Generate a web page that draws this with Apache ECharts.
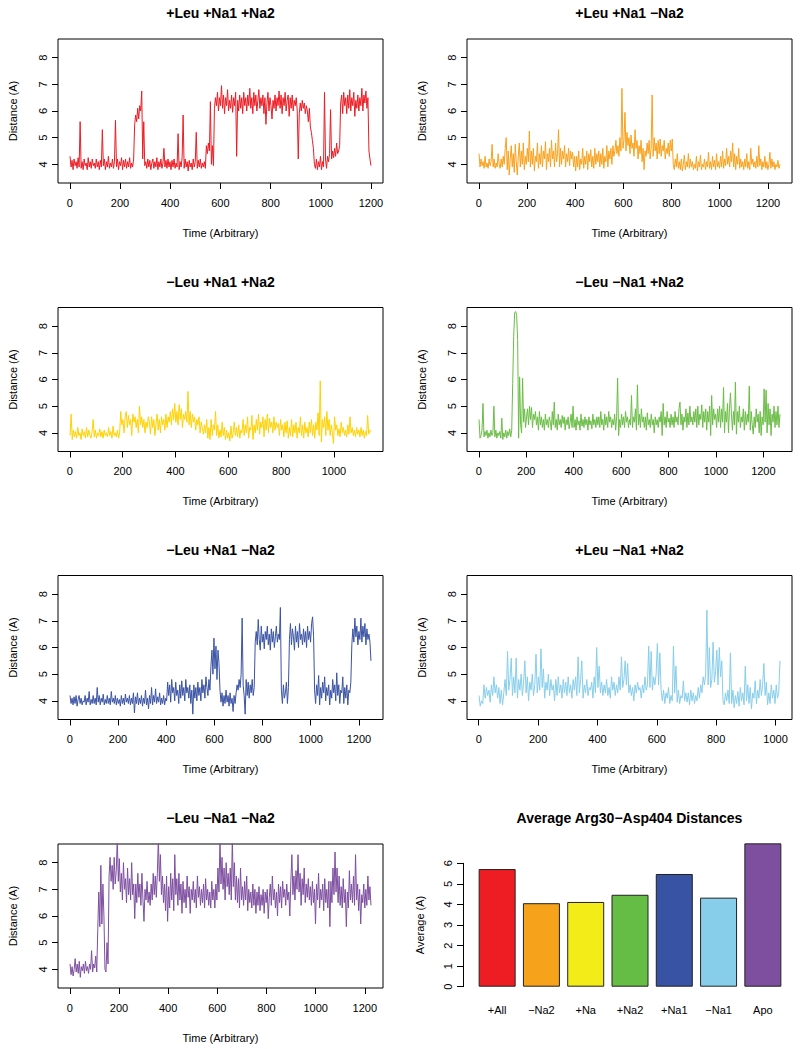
<!DOCTYPE html>
<html><head><meta charset="utf-8">
<script src="https://cdn.jsdelivr.net/npm/echarts@6/dist/echarts.min.js"></script>
<style>html,body{margin:0;padding:0;background:#fff}#c{width:800px;height:1049px}</style>
</head><body><div id="c"></div>
<script>
// ---------- DATA ----------
const panelTitles = ['+Leu +Na1 +Na2', '+Leu +Na1 \u2212Na2', '\u2212Leu +Na1 +Na2', '\u2212Leu \u2212Na1 +Na2',
  '\u2212Leu +Na1 \u2212Na2', '+Leu \u2212Na1 +Na2', '\u2212Leu \u2212Na1 \u2212Na2'];
const panelLengths = [1200, 1250, 1140, 1270, 1250, 1015, 1225];
const panelColors = ['#ED1C24', '#F9A11B', '#FFD200', '#6ABD45', '#3A53A4', '#87CEEB', '#7E4FA0'];

const distLeuNa1Na2 = [
  4.3,3.9,4.15,3.8,4.2,3.95,4.1,3.85,4.25,3.9,5.6,3.85,4.1,3.8,4.2,3.95,4.05,3.8,4.25,3.9,4.1,3.85,4.2,3.95,4.05,
  3.85,4.2,3.9,4.1,3.8,4.15,3.9,5.3,3.95,4.2,3.8,4.1,3.9,4.3,3.85,4.05,3.9,4.2,3.85,4.1,5.65,3.9,4.2,3.8,4.1,
  3.95,4.25,3.8,4.15,3.9,4.2,3.85,4.1,3.9,4.25,3.85,4.05,3.9,4.2,5.5,5.85,5.6,6.1,5.7,6.2,6.0,6.75,4.2,5.6,3.95,
  4.1,3.85,4.2,3.9,4.15,3.8,4.05,4.2,3.85,4.1,3.9,4.25,3.8,4.1,3.9,4.2,3.85,4.05,4.6,3.9,4.15,3.85,4.2,3.9,4.1,
  3.8,4.15,3.9,4.2,3.85,4.05,3.9,5.15,3.8,4.1,3.9,4.25,5.85,3.85,4.2,3.9,4.1,3.75,4.15,3.9,4.05,3.8,4.2,3.9,4.1,
  5.2,3.85,4.15,3.9,4.2,3.85,4.05,3.9,4.1,3.85,4.7,4.4,4.8,4.5,6.35,4.0,4.7,3.95,6.1,6.5,6.2,6.7,6.0,6.5,6.2,
  6.95,6.1,6.6,5.9,6.5,6.2,6.8,6.0,6.4,6.1,6.6,5.95,6.5,6.2,6.7,4.3,6.4,6.0,6.6,6.1,6.5,5.9,6.7,6.2,6.5,
  6.0,6.6,6.2,6.85,6.1,6.5,5.9,6.7,6.2,6.6,6.0,6.4,6.8,6.1,6.5,6.2,6.6,5.9,6.5,5.5,6.3,6.7,6.0,6.5,6.2,
  5.7,6.4,6.1,6.6,6.0,6.5,6.2,6.75,6.1,6.6,5.9,6.5,6.2,6.7,6.0,6.4,6.6,5.8,6.5,6.1,6.6,6.0,6.4,6.2,6.5,
  6.0,4.2,5.9,6.3,6.0,6.4,6.1,6.3,5.9,6.2,6.0,5.6,6.1,5.4,5.2,4.9,4.6,4.0,3.85,4.2,3.8,4.1,3.9,4.3,3.8,
  4.1,3.9,6.7,4.2,3.85,4.3,4.1,4.4,6.05,4.2,4.5,4.25,4.6,4.3,4.8,4.4,4.5,4.7,6.3,6.6,5.9,6.7,6.2,6.5,5.9,
  6.6,6.1,6.8,6.0,6.5,6.2,6.7,5.8,6.4,6.1,6.6,6.0,6.5,6.2,6.85,6.0,6.6,6.3,6.75,6.1,6.5,4.5,4.2,3.95];

const distLeuNa1NoNa2 = [
  4.4,3.9,4.2,3.95,4.1,3.85,4.3,3.9,4.05,3.85,4.2,3.95,4.1,4.75,3.9,4.2,3.85,4.05,3.9,4.4,4.0,3.85,4.2,3.9,
  4.3,4.0,4.6,5.0,3.8,4.5,3.6,4.2,4.7,3.9,4.4,3.7,4.75,4.1,3.6,4.3,4.8,3.9,4.5,4.0,4.8,3.8,4.3,4.0,
  4.6,4.1,5.25,3.9,4.5,4.0,4.6,3.75,4.3,4.1,4.8,3.85,4.4,4.0,4.7,3.9,4.5,4.2,4.85,3.8,4.4,4.1,4.6,3.9,
  4.9,4.2,4.5,3.9,4.8,4.1,4.4,5.3,3.9,4.6,4.0,4.5,4.2,4.7,3.9,4.4,4.1,4.6,3.95,4.5,4.2,4.45,3.9,4.3,
  3.75,4.3,3.9,4.5,3.8,4.2,4.0,4.6,3.85,4.3,4.0,4.5,3.8,4.4,4.1,4.55,3.9,4.3,3.85,4.6,4.0,4.4,4.1,4.5,
  3.9,4.4,4.0,4.6,3.85,4.3,4.1,4.7,3.9,4.5,4.2,4.6,4.0,4.7,4.3,4.5,4.9,4.4,4.7,4.3,5.0,4.5,6.85,4.6,
  4.9,5.95,4.5,5.2,4.7,5.0,4.4,5.1,4.6,4.8,4.3,5.3,4.6,4.9,4.2,4.7,4.4,4.9,4.1,4.6,3.8,4.5,4.3,4.8,
  4.4,4.9,4.2,4.6,6.6,4.3,5.0,4.5,4.8,4.2,4.9,4.4,4.95,4.3,4.7,4.5,4.9,4.2,4.6,4.4,4.8,4.3,4.9,4.5,
  4.95,4.0,3.8,4.2,3.9,4.4,3.85,4.1,3.8,4.2,3.75,4.0,4.35,3.8,4.1,3.9,4.4,3.85,4.2,3.9,4.1,3.8,4.0,3.85,
  4.3,3.75,4.1,3.9,4.35,3.8,4.0,3.9,4.2,3.8,4.1,3.9,4.45,3.85,4.1,3.8,4.3,3.9,4.15,3.8,4.4,3.9,4.1,3.85,
  4.3,3.9,4.5,3.85,4.2,3.95,4.6,4.0,4.3,3.9,4.5,4.1,4.8,3.9,4.4,3.8,4.3,4.0,4.6,3.85,4.2,3.9,4.1,3.8,
  4.2,3.9,4.4,3.85,4.1,3.8,4.6,4.0,4.2,3.9,4.1,3.85,4.3,3.9,4.7,3.95,4.2,3.8,4.1,3.9,4.3,3.85,4.1,3.8,
  4.0,4.45,3.85,4.2,3.9,4.1,3.8,4.0,3.9,4.15,3.85,4.0];

const distNoLeuNa1Na2 = [
  3.9,4.7,3.75,4.1,3.85,4.05,3.8,4.2,3.9,4.0,3.75,4.15,3.9,4.05,3.8,4.2,3.85,4.1,3.9,3.8,4.05,4.5,3.85,4.1,
  3.8,4.0,3.9,4.15,3.85,4.05,3.8,4.1,3.9,4.0,3.85,4.2,3.9,4.05,3.8,4.25,3.9,4.0,3.85,4.1,3.8,4.0,4.8,4.3,
  4.5,4.0,4.6,4.8,4.2,4.65,4.3,4.5,3.9,4.7,4.4,4.6,4.2,4.5,4.0,5.0,4.3,4.6,4.2,4.5,4.0,4.4,4.2,4.6,
  4.4,3.95,4.6,4.2,4.5,3.9,4.35,4.7,4.1,4.5,4.0,4.6,4.3,4.5,4.1,4.7,4.2,4.6,4.4,4.8,4.3,4.9,4.5,5.1,
  4.4,4.8,4.3,5.05,4.5,4.9,4.2,4.7,4.5,4.8,4.4,5.55,4.3,4.8,4.2,4.7,4.4,4.6,4.1,4.5,4.3,4.6,4.0,4.4,
  4.2,3.95,4.3,4.0,4.5,3.8,4.2,3.75,4.5,3.9,4.3,4.1,4.8,3.9,4.3,3.8,4.1,3.85,4.4,3.9,4.2,3.75,4.1,3.8,
  4.0,3.7,4.25,3.8,4.0,4.4,3.9,4.2,3.85,4.3,3.8,4.1,4.0,4.5,3.9,4.3,4.0,4.6,3.8,4.2,4.1,4.65,3.75,4.3,
  4.0,4.5,4.1,4.7,3.95,4.4,4.2,4.6,3.85,4.5,4.1,4.7,4.0,4.55,4.2,4.4,4.0,4.6,4.1,4.4,4.2,4.35,3.9,4.5,
  4.1,4.3,3.85,4.4,4.0,4.45,3.8,4.2,3.9,4.5,3.85,4.3,4.0,4.4,3.8,4.2,4.0,4.6,3.9,4.3,3.8,4.4,4.0,4.2,
  3.85,4.4,4.0,4.5,3.9,4.3,3.8,4.4,4.1,4.75,3.9,5.95,3.65,4.5,4.2,4.6,3.9,4.8,4.1,4.5,3.9,4.3,4.0,3.6,
  4.6,4.1,4.3,3.9,4.15,3.85,4.4,4.0,4.2,3.9,4.1,3.85,4.3,3.95,4.6,4.0,4.2,3.9,4.1,3.85,4.2,3.95,4.1,3.85,
  4.2,3.9,4.1,3.8,4.05,3.9,4.65,3.95,4.1,4.05];

const distNoLeuNoNa1Na2 = [
  4.5,3.8,3.9,4.1,5.1,3.85,4.05,3.9,4.1,3.8,4.0,3.85,4.1,3.9,4.0,5.0,3.85,4.1,3.8,4.0,3.9,4.05,3.8,4.55,
  3.75,4.0,3.85,4.1,3.8,4.05,3.9,4.15,3.85,4.1,5.85,7.6,8.5,8.55,8.4,7.5,3.8,6.1,4.3,4.0,6.05,4.4,4.9,4.2,
  4.6,4.9,4.3,5.0,4.5,4.95,4.2,4.7,4.5,4.8,4.3,4.6,4.1,4.8,4.3,4.6,4.2,4.5,4.1,4.7,4.3,4.5,4.2,4.6,
  4.4,4.1,4.8,4.3,5.15,4.2,4.5,4.1,4.7,4.3,4.5,4.2,4.65,4.35,4.6,4.1,4.5,4.3,4.6,4.15,4.4,4.7,4.2,5.0,
  4.2,4.5,4.1,4.6,4.3,4.45,4.1,4.7,4.25,4.5,4.2,4.6,4.3,4.5,4.1,4.6,4.3,4.45,4.15,4.7,4.3,4.5,4.2,4.6,
  4.3,4.6,4.2,4.8,4.3,4.5,4.1,4.7,4.3,4.6,4.2,4.8,4.4,4.6,4.2,4.5,4.3,4.7,4.1,4.6,6.05,3.9,4.5,4.2,
  4.7,4.3,4.6,4.2,4.8,4.4,4.6,4.2,4.5,4.3,5.4,4.2,4.6,4.4,4.9,4.1,5.8,4.3,4.7,4.2,4.9,4.4,4.6,4.2,
  4.6,4.1,4.75,4.3,4.5,4.2,4.7,4.3,4.5,4.0,4.6,4.3,4.5,4.2,4.6,4.4,4.8,3.9,5.1,4.3,4.6,4.2,4.8,4.4,
  4.55,4.2,4.7,4.3,4.6,4.2,4.8,4.4,4.6,4.3,4.9,5.15,4.3,4.7,4.1,4.6,4.4,4.9,4.2,4.75,4.3,5.0,4.4,4.6,
  4.3,4.8,4.4,4.9,4.2,5.0,4.3,4.7,4.5,5.05,4.2,4.8,4.4,4.9,4.1,4.8,4.4,5.0,3.9,5.4,4.3,4.9,4.5,4.7,
  4.2,4.9,4.4,5.0,4.2,4.9,4.4,5.7,4.0,4.8,4.4,5.1,4.0,4.9,5.5,4.7,4.1,4.8,4.3,5.9,3.95,4.8,4.4,5.0,
  4.2,4.6,4.4,4.9,4.1,4.8,4.3,4.7,4.4,5.75,4.1,4.8,4.3,3.95,4.6,4.2,4.9,4.4,4.7,4.0,4.8,3.9,4.6,4.3,
  5.65,4.4,5.6,4.0,5.1,4.3,4.9,3.9,4.7,4.4,5.0,4.2,4.8,4.3,5.0,4.2,4.7];

const distNoLeuNa1NoNa2 = [
  4.2,3.9,4.1,3.85,4.15,3.9,4.2,3.8,4.05,4.2,3.9,4.1,3.85,4.0,3.95,4.2,3.85,4.1,3.95,4.35,3.85,4.05,3.9,4.2,
  3.9,4.1,3.85,4.5,3.95,4.2,3.85,4.1,3.95,4.25,3.85,4.05,3.9,4.2,3.9,4.1,3.85,4.35,3.95,4.1,3.9,4.2,3.85,4.1,
  3.9,4.05,3.8,4.2,3.9,4.1,3.85,4.25,3.95,4.1,3.9,4.2,3.85,4.1,3.9,4.3,3.55,4.15,3.9,4.3,3.85,4.1,3.9,4.2,
  3.8,4.1,3.9,4.4,3.85,4.1,3.7,4.2,3.9,4.5,3.85,4.2,3.95,4.45,3.9,4.15,3.95,4.3,3.85,4.1,3.9,4.2,3.85,4.1,
  4.0,4.7,4.2,4.6,3.95,4.8,4.3,4.5,4.0,4.7,4.2,4.4,3.9,4.6,4.1,4.75,4.2,4.5,4.0,4.8,4.3,4.5,4.1,4.6,
  3.9,4.4,3.5,4.6,4.1,4.5,4.0,4.7,4.2,4.5,4.0,4.8,4.3,4.6,4.1,4.9,4.5,4.2,4.8,4.4,5.3,5.9,5.0,6.35,
  5.2,6.05,4.8,5.9,5.4,4.4,3.95,4.3,3.8,4.2,3.9,4.4,3.95,4.2,3.8,4.3,3.9,4.1,3.6,4.2,3.9,4.3,4.6,4.4,
  4.8,4.5,5.0,7.1,4.6,4.2,3.5,4.8,4.2,4.7,4.1,4.6,4.3,4.8,4.2,4.5,6.2,6.6,6.1,7.05,6.3,5.9,6.8,6.2,
  6.5,5.95,6.6,6.3,6.8,6.1,6.5,5.9,6.7,6.2,6.6,6.0,6.4,6.8,6.2,6.5,6.3,7.5,4.4,3.9,4.6,4.1,4.3,4.7,
  3.9,4.5,6.3,6.9,6.1,6.7,6.4,5.9,6.8,6.2,6.6,6.0,6.9,6.3,6.5,6.1,6.7,6.2,6.6,6.0,6.8,6.3,6.6,6.2,
  6.9,7.15,6.4,4.4,3.9,4.6,4.2,4.95,3.85,4.5,4.1,4.7,4.3,4.9,4.0,4.5,4.2,4.6,3.85,4.4,4.1,4.8,4.3,4.6,
  4.0,5.05,4.2,4.6,3.9,4.4,4.3,4.9,3.9,4.5,4.1,4.6,3.85,4.4,4.3,4.7,6.1,6.7,6.2,7.1,6.4,6.8,6.1,6.6,
  6.3,7.1,6.2,6.8,6.4,6.9,6.1,6.7,6.3,6.5,6.2,5.5];

const distLeuNoNa1Na2 = [
  4.2,3.8,4.0,3.9,4.6,4.1,4.5,4.2,4.4,3.95,4.6,4.2,4.9,4.3,4.6,4.1,4.5,3.9,4.4,3.85,4.3,4.8,4.2,5.85,
  4.4,4.8,5.6,4.2,4.9,4.3,5.6,4.1,4.8,4.4,5.0,4.2,4.7,5.5,4.3,4.9,4.0,4.7,4.4,5.0,4.2,4.6,5.75,4.3,
  4.9,4.4,5.95,4.5,5.2,4.1,4.7,4.4,5.0,4.2,4.8,4.4,4.6,4.0,4.8,4.2,4.9,4.3,4.6,4.1,4.8,4.3,4.7,4.2,
  4.9,4.3,4.6,4.1,4.8,4.4,4.9,4.2,5.65,4.3,4.8,5.5,4.1,4.6,4.3,4.8,4.2,4.5,4.4,4.7,4.1,4.9,4.3,6.0,
  4.5,5.3,4.3,4.7,4.2,4.6,4.3,4.8,4.2,4.5,4.1,4.9,4.4,4.7,4.2,4.6,4.3,4.9,4.4,5.65,4.5,4.8,5.5,4.6,
  5.4,4.3,4.6,4.2,4.5,4.0,4.6,4.3,4.7,4.4,4.5,4.1,4.6,4.3,4.9,4.4,4.6,6.05,4.5,5.85,4.4,4.9,4.6,5.0,
  6.15,4.6,5.8,4.4,4.0,4.4,3.9,4.3,4.1,4.5,3.9,4.2,4.0,6.05,4.3,5.3,3.95,4.4,3.9,4.2,4.1,4.75,4.0,4.3,
  3.95,4.3,3.85,4.4,4.0,4.3,3.9,4.2,4.0,4.5,4.1,4.6,4.3,4.9,4.6,5.0,7.4,4.6,6.0,4.5,4.8,6.2,4.7,5.1,
  5.9,4.6,6.0,4.9,5.5,4.0,3.85,4.3,4.0,4.4,3.9,5.8,3.9,4.4,3.75,4.2,3.9,4.35,3.8,4.5,4.0,4.3,3.85,5.3,
  4.0,4.6,3.9,4.5,3.7,4.3,4.1,4.75,3.9,4.4,4.1,4.8,4.2,4.6,5.4,4.2,4.7,3.85,4.3,3.9,4.6,4.1,4.4,3.9,
  4.6,4.1,4.3,5.5];

const distNoLeuNoNa1NoNa2 = [
  4.2,3.8,4.1,3.75,4.0,4.4,3.9,4.2,3.85,4.3,3.7,4.1,3.95,4.2,3.85,4.3,3.95,4.1,3.85,4.2,4.0,4.7,3.9,4.2,
  4.05,4.5,3.9,5.5,6.9,5.6,7.9,5.7,7.2,6.0,4.0,3.9,5.0,4.2,7.5,8.2,7.3,7.9,7.0,8.2,7.2,7.7,8.9,7.3,
  8.15,6.9,7.6,6.6,8.0,7.0,7.4,6.5,7.8,6.8,7.4,6.6,8.0,6.8,7.2,5.9,7.2,6.5,7.6,6.7,7.2,6.4,7.6,6.6,
  5.8,7.0,6.6,7.3,6.5,6.9,6.4,7.2,6.6,7.6,6.8,7.5,6.7,7.6,8.9,7.3,8.3,6.8,7.5,6.5,7.2,6.2,7.5,5.8,
  7.1,6.3,7.6,6.6,7.4,6.2,8.3,6.8,7.4,6.4,7.6,6.6,7.2,6.1,7.3,6.5,7.0,6.3,7.5,6.7,7.1,6.1,7.0,6.6,
  7.3,6.5,7.0,6.3,7.5,6.7,7.1,6.4,7.0,6.5,7.2,6.3,7.4,6.6,7.0,6.4,6.9,6.3,7.3,6.6,7.0,6.3,7.2,6.6,
  7.8,6.9,8.9,7.2,8.2,7.0,7.8,6.6,8.0,7.1,7.6,6.8,7.8,6.6,8.9,7.1,8.0,6.6,7.5,6.5,7.4,6.3,7.8,6.6,
  7.1,6.4,7.3,6.6,7.5,6.2,7.0,6.5,6.9,6.3,7.2,6.4,7.0,6.1,6.9,6.4,7.1,6.2,6.8,6.4,7.0,6.1,6.9,6.5,
  7.0,5.9,6.7,7.2,6.4,7.5,6.6,7.0,6.3,6.9,6.0,7.2,6.5,7.1,6.3,7.3,6.7,7.0,6.4,7.2,6.6,6.9,6.0,7.3,
  8.3,6.8,7.5,6.6,7.7,7.0,8.3,6.9,7.6,6.4,7.4,6.8,7.8,6.5,7.2,6.7,7.4,6.6,7.1,6.4,7.3,6.5,7.0,5.7,
  7.2,6.6,7.6,6.3,7.0,6.6,7.2,6.2,7.4,6.5,7.0,6.3,7.3,5.6,7.3,6.5,7.8,6.8,8.4,6.9,7.8,6.5,7.5,6.4,
  7.1,6.3,7.4,6.5,7.0,5.6,6.9,6.3,7.7,6.6,7.2,6.5,7.5,6.4,8.3,6.6,7.2,6.2,7.0,5.7,6.8,6.5,7.2,6.3,
  7.0,6.4,7.5,6.6,7.1,6.4];

const panelValues = [distLeuNa1Na2, distLeuNa1NoNa2, distNoLeuNa1Na2, distNoLeuNoNa1Na2,
  distNoLeuNa1NoNa2, distLeuNoNa1Na2, distNoLeuNoNa1NoNa2];

const xTicks1200 = [0, 200, 400, 600, 800, 1000, 1200];
const xTicks1000 = [0, 200, 400, 600, 800, 1000];
const panelXTicks = [xTicks1200, xTicks1200, xTicks1000, xTicks1200, xTicks1200, xTicks1000, xTicks1200];
const distTicks = [4, 5, 6, 7, 8];

const barTitle = 'Average Arg30\u2212Asp404 Distances';
const barCategories = ['+All', '\u2212Na2', '+Na', '+Na2', '+Na1', '\u2212Na1', 'Apo'];
const barValues = [5.72, 4.06, 4.12, 4.47, 5.48, 4.33, 6.97];
const barColors = ['#EE1D23', '#F7A21B', '#F3EC19', '#66BD45', '#3953A4', '#87CEEB', '#7F4F9F'];

// ---------- LAYOUT ----------
const FONT = "'Liberation Sans', Arial, Helvetica, sans-serif";
const colLeft = [58, 467];
const rowTop = [39, 307.5, 575.5, 844];
const boxW = 325, boxH = 144;
const tickFont = 11, nameFont = 11, titleFont = 14;
const plain = v => String(v);

const grids = [], xAxes = [], yAxes = [], series = [], graphics = [];

panelValues.forEach((vals, k) => {
  const col = k % 2, row = Math.floor(k / 2);
  const left = colLeft[col], top = rowTop[row];
  const N = panelLengths[k];
  const pad = 0.04 * (N - 1);
  grids.push({ left: left, top: top, width: boxW, height: boxH, show: true,
    borderColor: '#000', borderWidth: 1, backgroundColor: 'transparent', containLabel: false });
  xAxes.push({ type: 'value', gridIndex: k, min: 1 - pad, max: N + pad,
    axisLine: { show: false, onZero: false }, splitLine: { show: false },
    axisTick: { show: true, inside: false, length: 6, lineStyle: { color: '#000', width: 1 }, customValues: panelXTicks[k] },
    axisLabel: { customValues: panelXTicks[k], formatter: plain, color: '#000', fontSize: tickFont, fontFamily: FONT, margin: 14 },
    name: 'Time (Arbitrary)', nameLocation: 'middle', nameGap: 44,
    nameTextStyle: { color: '#000', fontSize: nameFont, fontFamily: FONT } });
  yAxes.push({ type: 'value', gridIndex: k, min: 3.3, max: 8.7,
    axisLine: { show: false, onZero: false }, splitLine: { show: false },
    axisTick: { show: true, inside: false, length: 6, lineStyle: { color: '#000', width: 1 }, customValues: distTicks },
    axisLabel: { customValues: distTicks, formatter: plain, rotate: 90, color: '#000', fontSize: tickFont, fontFamily: FONT, margin: 10 },
    name: 'Distance (A)', nameLocation: 'middle', nameGap: 40, nameRotate: 90,
    nameTextStyle: { color: '#000', fontSize: nameFont, fontFamily: FONT } });
  const step = (N - 1) / (vals.length - 1);
  series.push({ type: 'line', xAxisIndex: k, yAxisIndex: k, showSymbol: false, symbol: 'none',
    clip: true, animation: false, silent: true,
    lineStyle: { color: panelColors[k], width: 1 },
    data: vals.map((v, i) => [1 + i * step, v]) });
  graphics.push({ type: 'text', x: left + boxW / 2, y: top - 26,
    style: { text: panelTitles[k], align: 'center', verticalAlign: 'middle',
      fontSize: titleFont, fontWeight: 'bold', fontFamily: FONT, fill: '#000' } });
});

// bar chart panel
const bk = 7;
grids.push({ left: 475, top: 863.3, width: 310, height: 123.4, show: false, containLabel: false });
xAxes.push({ type: 'category', gridIndex: bk, data: barCategories,
  axisLine: { show: false }, axisTick: { show: false }, splitLine: { show: false },
  axisLabel: { color: '#000', fontSize: tickFont, fontFamily: FONT, margin: 18, interval: 0 } });
yAxes.push({ type: 'value', gridIndex: bk, min: 0, max: 6, interval: 1, offset: 12,
  axisLine: { show: true, onZero: false, lineStyle: { color: '#000', width: 1 } }, splitLine: { show: false },
  axisTick: { show: true, inside: false, length: 6, lineStyle: { color: '#000', width: 1 } },
  axisLabel: { rotate: 90, formatter: plain, color: '#000', fontSize: tickFont, fontFamily: FONT, margin: 10 },
  name: 'Average (A)', nameLocation: 'middle', nameGap: 38, nameRotate: 90,
  nameTextStyle: { color: '#000', fontSize: nameFont, fontFamily: FONT } });
series.push({ type: 'bar', xAxisIndex: bk, yAxisIndex: bk, barWidth: 37, clip: false, animation: false,
  data: barValues.map((v, i) => ({ value: v, itemStyle: { color: barColors[i], borderColor: '#222', borderWidth: 1 } })) });
graphics.push({ type: 'text', x: colLeft[1] + boxW / 2, y: rowTop[3] - 26,
  style: { text: barTitle, align: 'center', verticalAlign: 'middle',
    fontSize: titleFont, fontWeight: 'bold', fontFamily: FONT, fill: '#000' } });

const chart = echarts.init(document.getElementById('c'), null, { renderer: 'svg', width: 800, height: 1049 });
chart.setOption({
  backgroundColor: '#fff',
  animation: false,
  grid: grids, xAxis: xAxes, yAxis: yAxes, series: series,
  graphic: graphics
});
</script></body></html>
